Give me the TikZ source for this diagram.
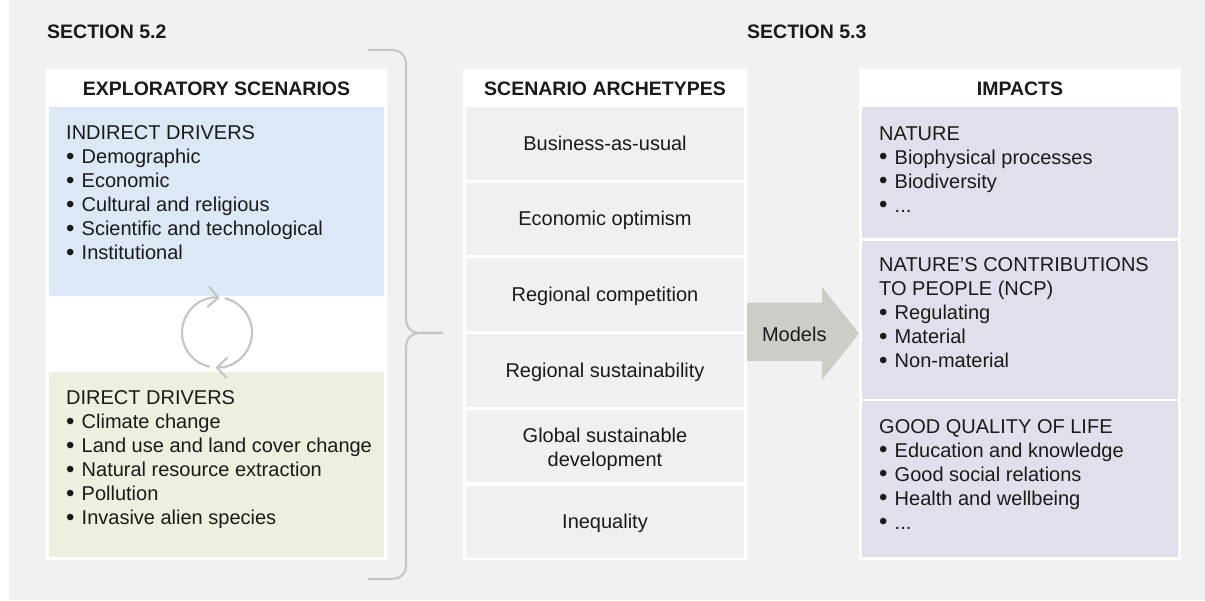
\documentclass[tikz,border=0pt]{standalone}
\usepackage{fontspec}
\setmainfont{Liberation Sans}
\usetikzlibrary{arrows.meta,calc}
\definecolor{bggray}{HTML}{F1F1F1}
\definecolor{cellgray}{HTML}{F0F0F0}
\definecolor{drvblue}{HTML}{DCE8F5}
\definecolor{drvgreen}{HTML}{EBF1DE}
\definecolor{imppurple}{HTML}{E3DEEC}
\definecolor{arrowgray}{HTML}{CDCCC7}
\definecolor{linegray}{HTML}{C6C6C6}
\definecolor{txt}{HTML}{1A1A1A}
\newcommand{\bl}{\makebox[15.5pt][l]{\raisebox{-0.6pt}{\scalebox{1.2}{\textbullet}}}}
\begin{document}
\begin{tikzpicture}[x=1pt,y=-1pt,
  panel/.style={fill=white,inner sep=0pt,outer sep=0pt},
  fillbox/.style={fill=#1,inner sep=0pt,outer sep=0pt},
  body/.style={font=\fontsize{20pt}{24pt}\selectfont,text=txt,inner sep=0pt},
  listtext/.style={body,align=left,anchor=north west},
  celltext/.style={body,align=center,text height=13.5pt,text depth=0pt},
  hdr/.style={font=\bfseries\fontsize{19.5pt}{23pt}\selectfont,text=txt,inner sep=0pt,anchor=base},
  sect/.style={hdr,anchor=base west},
  bracket/.style={draw=linegray,line width=2.2pt,rounded corners=13pt},
  cycarrow/.style={draw=linegray,line width=2.2pt,-{Straight Barb[length=10pt,width=20pt,round]}}]
\fill[white] (0,0) rectangle (1205,600);
\fill[bggray] (9,0) rectangle (1205,600);
\useasboundingbox (0,0) rectangle (1205,600);

% section labels
\node[sect] (s52) at (47,38) {SECTION 5.2};
\node[sect] (s53) at (747,38) {SECTION 5.3};

% left panel
\node[panel,minimum width=341pt,minimum height=491pt] (expl) at (216.5,314.5) {};
\node[hdr] (explh) at (216.5,95.5) {EXPLORATORY SCENARIOS};
\node[fillbox=drvblue,minimum width=335pt,minimum height=189pt] (indir) at (216.5,201.5) {};
\node[fillbox=drvgreen,minimum width=335pt,minimum height=185pt] (dir) at (216.5,464.5) {};
\node[listtext] (indirt) at (66,125.7) {INDIRECT DRIVERS\\\bl Demographic\\\bl Economic\\\bl Cultural and religious\\\bl Scientific and technological\\\bl Institutional};
\node[listtext] (dirt) at (66,390.7) {DIRECT DRIVERS\\\bl Climate change\\\bl Land use and land cover change\\\bl Natural resource extraction\\\bl Pollution\\\bl Invasive alien species};

% cycle
\coordinate (cyc) at (217,332.5);
\draw[cycarrow] (cyc) ++(258:35pt) arc[start angle=258,end angle=86,radius=35pt];
\draw[cycarrow] (cyc) ++(77:35pt) arc[start angle=77,end angle=-92,radius=35pt];

% bracket
\coordinate (btip) at (443,333);
\draw[bracket] (368,50) -| (406,333) -- (btip);
\draw[bracket] (368,579) -| (406,333) -- (btip);

% middle panel
\node[panel,minimum width=284pt,minimum height=491pt] (arch) at (605,314.5) {};
\node[hdr] (archh) at (605,95.5) {SCENARIO ARCHETYPES};
\node[fillbox=cellgray,minimum width=278pt,minimum height=72.5pt,celltext] (a1) at (605,143.25) {Business-as-usual};
\node[fillbox=cellgray,minimum width=278pt,minimum height=72.5pt,celltext] (a2) at (605,218.95) {Economic optimism};
\node[fillbox=cellgray,minimum width=278pt,minimum height=72.5pt,celltext] (a3) at (605,294.65) {Regional competition};
\node[fillbox=cellgray,minimum width=278pt,minimum height=72.5pt,celltext] (a4) at (605,370.35) {Regional sustainability};
\node[fillbox=cellgray,minimum width=278pt,minimum height=72.5pt] (a5) at (605,446.05) {};
\node[body,align=center,anchor=north] (a5t) at (605,427.5) {Global sustainable\\development};
\node[fillbox=cellgray,minimum width=278pt,minimum height=72.5pt,celltext] (a6) at (605,521.75) {Inequality};

% right panel
\node[panel,minimum width=322pt,minimum height=491pt] (imp) at (1020,314.5) {};
\node[hdr] (imph) at (1020,95.5) {IMPACTS};
\node[fillbox=imppurple,minimum width=316pt,minimum height=131pt] (nat) at (1020,172.5) {};
\node[fillbox=imppurple,minimum width=316pt,minimum height=158pt] (ncp) at (1020,319.5) {};
\node[fillbox=imppurple,minimum width=316pt,minimum height=156pt] (gql) at (1020,479) {};
\node[listtext] (natt) at (879,126.4) {NATURE\\\bl Biophysical processes\\\bl Biodiversity\\\bl ...};
\node[listtext] (ncpt) at (879,257.4) {NATURE’S CONTRIBUTIONS\\TO PEOPLE (NCP)\\\bl Regulating\\\bl Material\\\bl Non-material};
\node[listtext] (gqlt) at (879,419) {GOOD QUALITY OF LIFE\\\bl Education and knowledge\\\bl Good social relations\\\bl Health and wellbeing\\\bl ...};

% models arrow
\coordinate (mtip) at (imp.west |- 0,333.5);
\fill[arrowgray] (arch.east |- 0,302.5) -- (822,302.5) -- (822,287) -- (mtip) -- (822,380) -- (822,361) -- (arch.east |- 0,361) -- cycle;
\node[body,anchor=base] (models) at (794.3,341) {Models};
\end{tikzpicture}
\end{document}
